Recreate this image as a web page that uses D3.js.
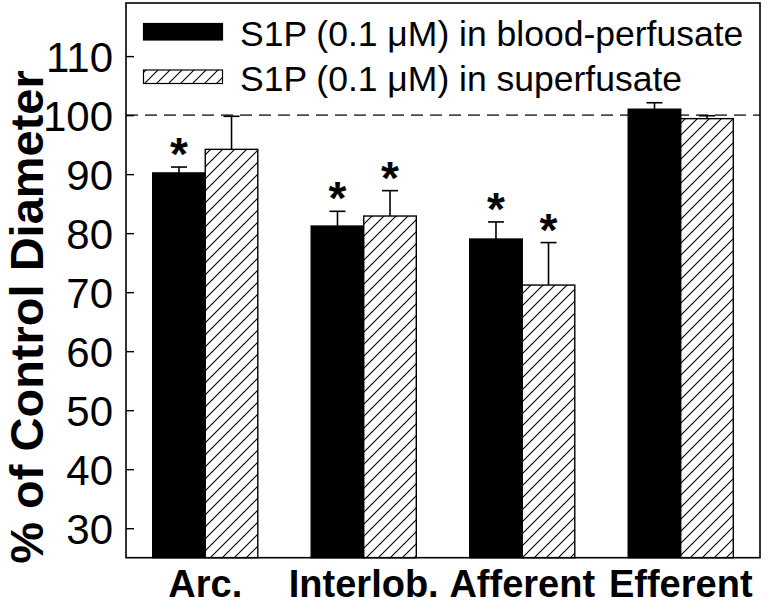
<!DOCTYPE html>
<html><head><meta charset="utf-8">
<script src="https://cdn.jsdelivr.net/npm/d3@7"></script>
<style>body{margin:0;background:#fff} svg{display:block}</style>
</head><body>
<script>
const categories = ["Arc.", "Interlob.", "Afferent", "Efferent"];
const seriesNames = ["S1P (0.1 \u03BCM) in blood-perfusate", "S1P (0.1 \u03BCM) in superfusate"];
const bloodValues = [90.2, 81.2, 79.0, 101.0];
const bloodErrors = [1.0, 2.5, 2.9, 1.1];
const superValues = [94.2, 82.9, 71.2, 99.4];
const superErrors = [5.6, 4.3, 7.2, 0.5];
const bloodSignif = [true, true, true, false];
const superSignif = [false, true, true, false];
const yTicks = [30, 40, 50, 60, 70, 80, 90, 100, 110];
const referenceValue = 100;
const yDomain = [25, 119];
const yTitle = "% of Control Diameter";

const W = 773, H = 612;
const L = 126, R = 760, T = 3, B = 557.7;
const font = "'Liberation Sans', Arial, sans-serif";

const svg = d3.select("body").append("svg").attr("width", W).attr("height", H);
const defs = svg.append("defs");
const pat = defs.append("pattern").attr("id", "hatch").attr("patternUnits", "userSpaceOnUse")
  .attr("width", 12).attr("height", 12);
pat.append("rect").attr("width", 12).attr("height", 12).attr("fill", "#fff");
pat.append("path").attr("d", "M-3,3 L3,-3 M0,12 L12,0 M9,15 L15,9")
  .attr("stroke", "#000").attr("stroke-width", 1.1);

const x = d3.scaleBand().domain(categories).range([L, R]).paddingInner(0.337).paddingOuter(0.1685);
const xs = d3.scaleBand().domain([0, 1]).range([0, x.bandwidth()]);
const y = d3.scaleLinear().domain(yDomain).range([B, T]);

const rows = [];
categories.forEach((c, i) => {
  rows.push({c, s: 0, v: bloodValues[i], e: bloodErrors[i], sig: bloodSignif[i]});
  rows.push({c, s: 1, v: superValues[i], e: superErrors[i], sig: superSignif[i]});
});

// reference dashed line
svg.append("line").attr("x1", L).attr("x2", R).attr("y1", y(referenceValue)).attr("y2", y(referenceValue))
  .attr("stroke", "#4a4a4a").attr("stroke-width", 1.6).attr("stroke-dasharray", "12,7");

// error bars
const eb = svg.append("g").attr("stroke", "#000").attr("stroke-width", 1.6);
rows.forEach(d => {
  const cx = x(d.c) + xs(d.s) + xs.bandwidth() / 2;
  eb.append("line").attr("x1", cx).attr("x2", cx).attr("y1", y(d.v)).attr("y2", y(d.v + d.e));
  eb.append("line").attr("x1", cx - 8).attr("x2", cx + 8).attr("y1", y(d.v + d.e)).attr("y2", y(d.v + d.e));
});

// bars
svg.append("g").selectAll("rect").data(rows).join("rect")
  .attr("x", d => x(d.c) + xs(d.s))
  .attr("y", d => y(d.v))
  .attr("width", xs.bandwidth())
  .attr("height", d => B - y(d.v))
  .attr("fill", d => d.s === 0 ? "#000" : "url(#hatch)")
  .attr("stroke", "#000").attr("stroke-width", 1.4);

// asterisks
svg.append("g").selectAll("text").data(rows.filter(d => d.sig)).join("text")
  .attr("x", d => x(d.c) + xs(d.s) + xs.bandwidth() / 2)
  .attr("y", d => y(d.v + d.e) + 3)
  .attr("text-anchor", "middle")
  .attr("font-family", font).attr("font-weight", "bold").attr("font-size", 46)
  .text("*");

// y axis
const yAxis = d3.axisLeft(y).tickValues(yTicks).tickSize(-8).tickPadding(13).tickFormat(d3.format("d"));
const ga = svg.append("g").attr("transform", `translate(${L},0)`).call(yAxis);
ga.select(".domain").remove();
ga.selectAll(".tick line").attr("stroke", "#000").attr("stroke-width", 1.4);
ga.selectAll(".tick text").attr("font-family", font).attr("font-size", 42).attr("fill", "#000").attr("dy", "0.36em");

// frame
svg.append("rect").attr("x", L).attr("y", T).attr("width", R - L).attr("height", B - T)
  .attr("fill", "none").attr("stroke", "#000").attr("stroke-width", 1.6);

// category labels
svg.append("g").selectAll("text").data(categories).join("text")
  .attr("x", d => x(d) + x.bandwidth() / 2)
  .attr("y", 597)
  .attr("text-anchor", "middle")
  .attr("font-family", font).attr("font-weight", "bold").attr("font-size", 38)
  .text(d => d);

// y title
svg.append("text")
  .attr("transform", "translate(43,317) rotate(-90)")
  .attr("text-anchor", "middle")
  .attr("font-family", font).attr("font-weight", "bold").attr("font-size", 47)
  .text(yTitle);

// legend
const lg = svg.append("g");
seriesNames.forEach((name, i) => {
  const yy = i === 0 ? 23.5 : 70;
  lg.append("rect").attr("x", 143.5).attr("y", yy).attr("width", 79).attr("height", i === 0 ? 16.5 : 13.5)
    .attr("fill", i === 0 ? "#000" : "url(#hatch)").attr("stroke", "#000").attr("stroke-width", 1.2);
  lg.append("text").attr("x", 240).attr("y", i === 0 ? 46 : 91)
    .attr("font-family", font).attr("font-size", 35.5).attr("fill", "#000").text(name);
});
</script>
</body></html>
